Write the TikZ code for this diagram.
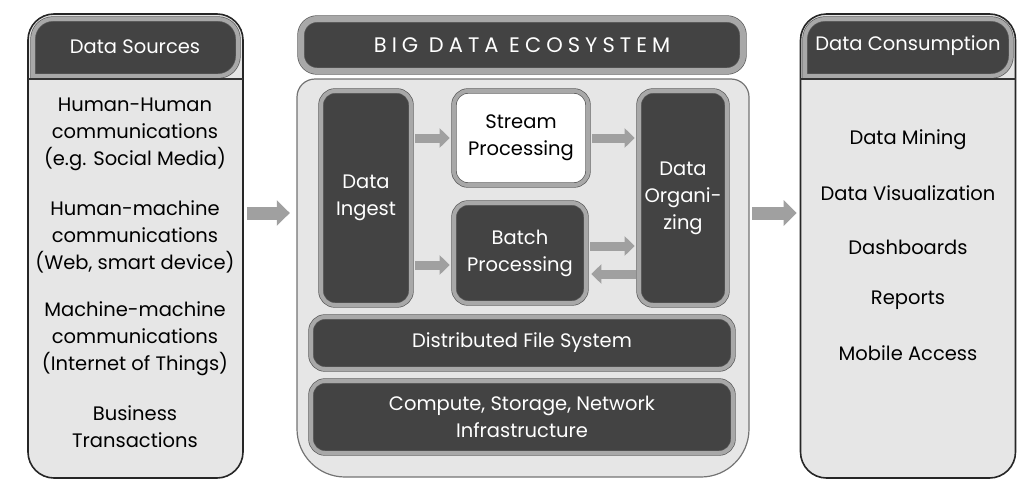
\documentclass[tikz,border=0pt]{standalone}
\usepackage{fontspec}
\setmainfont{Poppins}
\usetikzlibrary{arrows.meta,calc}
\definecolor{boxdark}{HTML}{434343}
\definecolor{panel}{HTML}{E6E6E6}
\definecolor{rim}{HTML}{A8A8A8}
\definecolor{rimline}{HTML}{5A5A5A}
\definecolor{arrowgray}{HTML}{A0A0A0}
\tikzset{
  txt/.style={font=\fontsize{19.5}{27}\selectfont, align=center, inner sep=0pt},
  panelbox/.style={draw=black!85, fill=panel, line width=1.6pt, rounded corners=26pt},
  darkbox/.style={draw=rimline, double=rim, double distance=4pt, line width=0.7pt,
    fill=boxdark, rounded corners=14pt, text=white, txt},
  lightbox/.style={darkbox, fill=white, text=black},
  blockarrow/.style={draw=arrowgray, line width=9pt, -{Triangle[length=10pt,width=19pt]}, shorten >=1pt},
  bigarrow/.style={draw=arrowgray, line width=13pt, -{Triangle[length=13pt,width=25pt]}}
}
\begin{document}
\begin{tikzpicture}[x=1pt,y=-1pt]
\useasboundingbox (0,0) rectangle (1036,490);
% ---------- left panel ----------
\node[panelbox, minimum width=215pt, minimum height=464pt, inner sep=0pt] (src) at (135.5,246) {};
\path[draw=rimline, double=rim, double distance=4pt, line width=0.7pt, fill=boxdark, rounded corners=20pt]
  (33,76) -- (33,19) -- (238,19) -- (238,76) [sharp corners] -- cycle;
\draw[black!80, line width=1.2pt] (28,79) -- (243,79);
\node[txt, text=white] (srct) at (135,47) {Data Sources};
\node[txt] (s1) at (135,134) {Human-Human\\communications\\(e.g. Social Media)};
\node[txt] (s2) at (135,237) {Human-machine\\communications\\(Web, smart device)};
\node[txt] (s3) at (135,339) {Machine-machine\\communications\\(Internet of Things)};
\node[txt] (s4) at (135,427) {Business\\Transactions};
% ---------- right panel ----------
\node[panelbox, minimum width=215pt, minimum height=464pt, inner sep=0pt] (con) at (908,246) {};
\path[draw=rimline, double=rim, double distance=4pt, line width=0.7pt, fill=boxdark, rounded corners=20pt]
  (805,76) -- (805,19) -- (1011,19) -- (1011,76) [sharp corners] -- cycle;
\draw[black!80, line width=1.2pt] (800,79) -- (1016,79);
\node[txt, text=white] (cont) at (908,46) {Data Consumption};
\node[txt] (c1) at (908,140) {Data Mining};
\node[txt] (c2) at (908,193) {Data Visualization};
\node[txt] (c3) at (908,247) {Dashboards};
\node[txt] (c4) at (908,300) {Reports};
\node[txt] (c5) at (908,353) {Mobile Access};
% ---------- center ----------
\node[minimum width=452pt, minimum height=398pt, inner sep=0pt] (eco) at (523,278) {};
\path[draw=black!55, fill=panel, line width=1.2pt]
  (315,79) -- (731,79) arc[start angle=90, end angle=0, radius=18pt]
  -- (749,429) arc[start angle=0, end angle=-90, radius=48pt]
  -- (345,477) arc[start angle=-90, end angle=-180, radius=48pt]
  -- (297,97) arc[start angle=180, end angle=90, radius=18pt] -- cycle;
\node[darkbox, double distance=6pt, rounded corners=16pt, minimum width=442pt, minimum height=52pt] (title) at (522,45)
  {\fontsize{21}{27}\selectfont\addfontfeature{LetterSpace=24}BIG DATA ECOSYSTEM};
\node[darkbox, minimum width=90pt, minimum height=214pt] (ingest) at (366,198) {Data\\Ingest};
\node[lightbox, minimum width=134pt, minimum height=94pt] (stream) at (521,138) {Stream\\Processing};
\node[darkbox, minimum width=132pt, minimum height=100pt] (batch) at (520,253) {Batch\\Processing};
\node[darkbox, minimum width=88pt, minimum height=214pt] (org) at (683,198) {Data\\Organi-\\zing};
\node[darkbox, minimum width=422pt, minimum height=52pt] (dfs) at (522,343) {Distributed File System};
\node[darkbox, minimum width=422pt, minimum height=72pt] (infra) at (522,417) {Compute, Storage, Network\\Infrastructure};
% ---------- arrows ----------
\draw[blockarrow] ([xshift=4pt]ingest.east |- stream.west) -- ([xshift=-3pt]stream.west);
\draw[blockarrow] ([xshift=4pt]stream.east) -- ([xshift=-3pt]org.west |- stream.east);
\draw[blockarrow] ($([xshift=4pt]ingest.east |- batch.west)+(0,12)$) -- ($([xshift=-3pt]batch.west)+(0,12)$);
\draw[blockarrow] ($([xshift=4pt]batch.east)+(0,-7)$) -- ($([xshift=-3pt]org.west |- batch.east)+(0,-7)$);
\draw[blockarrow] ($([xshift=-3pt]org.west |- batch.east)+(0,21)$) -- ($([xshift=4pt]batch.east)+(0,21)$);
\coordinate (ya) at (0,213);
\draw[bigarrow] ([xshift=3pt]src.east |- ya) -- ([xshift=-7pt]eco.west |- ya);
\draw[bigarrow] ([xshift=3pt]eco.east |- ya) -- ([xshift=-3pt]con.west |- ya);
\end{tikzpicture}
\end{document}
